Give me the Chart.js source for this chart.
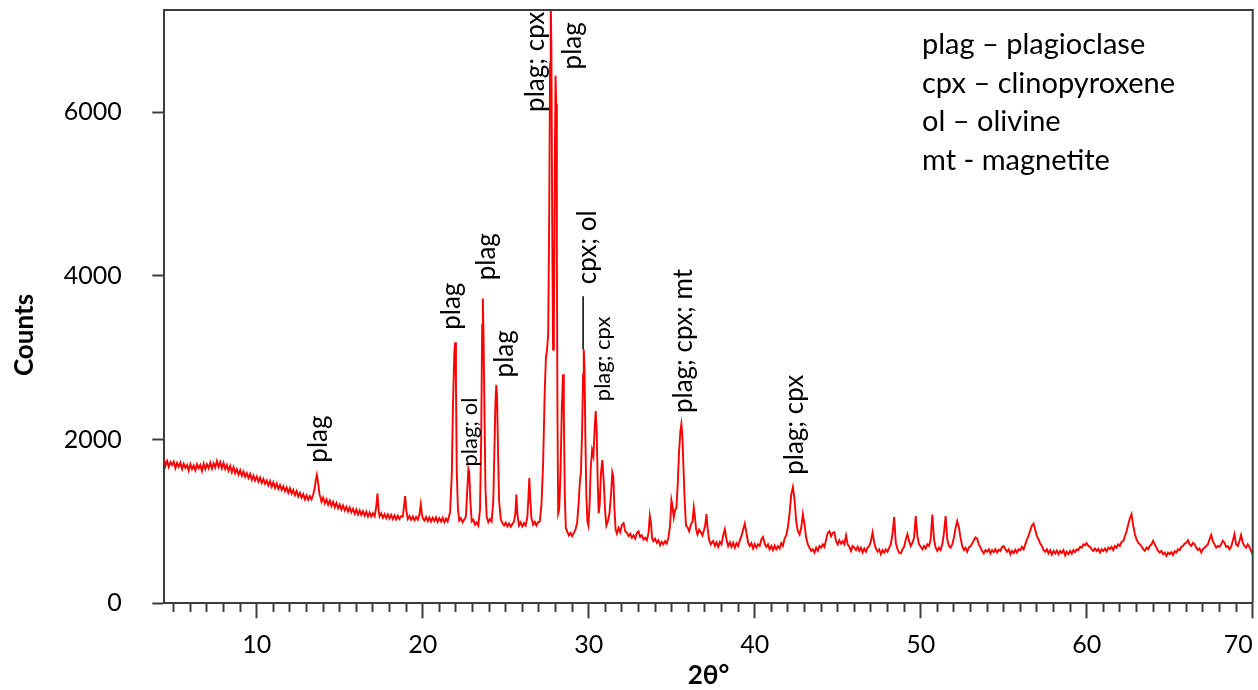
<!DOCTYPE html>
<html><head><meta charset="utf-8">
<script src="https://cdn.jsdelivr.net/npm/chart.js@4.4.1/dist/chart.umd.min.js"></script>
<style>html,body{margin:0;padding:0;background:#fff}</style>
</head><body>
<canvas id="c" width="1258" height="690"></canvas>
<script>
// ---- data (2θ in degrees, intensity in counts) ----
const thetaA = [4.44,4.5,4.6,4.7,4.8,4.9,5.0,5.1,5.2,5.3,5.4,5.5,5.6,5.7,5.8,5.9,6.0,6.1,6.2,6.3,6.4,6.5,6.6,6.7,6.8,6.9,7.0,7.1,7.2,7.3,7.4,7.5,7.6,7.7,7.8,7.9,8.0,8.1,8.2,8.3,8.4,8.5,8.6,8.7,8.8,8.9,9.0,9.1,9.2,9.3,9.4,9.5,9.6,9.7,9.8,9.9,10.0,10.1,10.2,10.3,10.4,10.5,10.6,10.7,10.8,10.9,11.0,11.1,11.2,11.3,11.4,11.5,11.6,11.7,11.8,11.9,12.0,12.1,12.2,12.3,12.4,12.5,12.6,12.7,12.8,12.9,13.0,13.1,13.2,13.3,13.4,13.5,13.55,13.62,13.7,13.78,13.85,13.9,14.0,14.1,14.2,14.3,14.4,14.5,14.6,14.7,14.8,14.9,15.0,15.1,15.2,15.3,15.4,15.5,15.6,15.7,15.8,15.9,16.0,16.1,16.2,16.3,16.4,16.5,16.6,16.7,16.8,16.9,17.0,17.1,17.2,17.27,17.35,17.4,17.5,17.6,17.7,17.8,17.9,18.0,18.1,18.2,18.3,18.4,18.5,18.6,18.7,18.8,18.87,18.94,19.02,19.1,19.2,19.3,19.4,19.5,19.6,19.7,19.8,19.88,19.95,20.0,20.1,20.2,20.3,20.4,20.5,20.6,20.7,20.8,20.9,21.0,21.1,21.2,21.3,21.4,21.5,21.58];
const countsA = [1750,1680,1740,1665,1725,1690,1730,1650,1715,1670,1720,1640,1705,1655,1690,1620,1700,1640,1685,1625,1700,1650,1690,1615,1705,1640,1700,1650,1720,1645,1710,1660,1740,1665,1725,1650,1715,1640,1690,1620,1680,1600,1665,1590,1640,1570,1625,1560,1610,1545,1590,1530,1580,1510,1560,1500,1550,1485,1535,1470,1520,1460,1500,1440,1495,1425,1480,1410,1465,1400,1445,1385,1430,1370,1415,1350,1405,1340,1385,1320,1370,1305,1350,1290,1335,1270,1320,1265,1310,1270,1330,1420,1500,1570,1470,1330,1290,1240,1290,1220,1270,1205,1255,1190,1240,1175,1225,1160,1205,1145,1195,1135,1180,1120,1170,1110,1155,1095,1145,1085,1135,1080,1125,1070,1120,1060,1110,1060,1100,1065,1180,1340,1120,1060,1100,1045,1090,1040,1085,1035,1080,1030,1075,1025,1070,1030,1065,1060,1180,1310,1120,1030,1065,1020,1060,1015,1055,1020,1080,1210,1090,1040,1010,1055,1005,1050,1000,1045,1005,1050,995,1040,1000,1045,990,1035,1000,1060];

const thetaB = [21.65,21.75,21.82,21.9,21.95,22.0,22.05,22.12,22.2,22.3,22.4,22.5,22.6,22.68,22.75,22.8,22.87,22.95,23.05,23.15,23.25,23.35,23.45,23.52,23.58,23.62,23.66,23.72,23.78,23.85,23.95,24.05,24.15,24.25,24.32,24.38,24.43,24.48,24.54,24.6,24.7,24.8,24.9,25.0,25.1,25.2,25.3,25.4,25.5,25.58,25.64,25.7,25.8,25.9,26.0,26.1,26.2,26.3,26.37,26.42,26.47,26.55,26.65,26.75,26.85,26.95,27.05,27.15,27.25,27.35,27.42,27.49,27.56,27.62,27.67,27.71,27.75,27.8,27.85,27.9,27.95,28.0,28.04,28.08,28.12,28.16,28.22,28.3,28.38,28.45,28.5,28.56,28.62,28.7,28.8,28.9,29.0,29.1,29.2,29.3,29.4,29.47,29.53,29.6,29.66,29.7,29.74,29.8,29.86,29.92,29.98,30.05,30.12,30.2,30.28,30.36,30.42,30.48,30.54,30.6,30.66,30.74,30.82,30.9,30.98,31.06,31.15,31.25,31.35,31.42,31.48,31.55,31.62,31.7,31.8,31.9,32.0,32.1,32.2,32.3,32.4,32.5,32.6,32.7,32.8,32.9,33.0,33.1,33.2,33.3,33.4,33.5,33.6,33.68,33.75,33.82,33.9,34.0,34.1,34.2,34.3,34.4,34.5,34.6,34.7,34.8,34.9,34.98,35.05,35.12,35.2,35.28,35.36,35.44,35.52,35.58,35.64,35.7,35.78,35.86,35.95,36.05,36.15,36.25,36.33,36.4,36.47,36.55,36.65,36.75,36.85,36.95,37.02,37.09,37.16,37.25,37.35,37.45];
const countsB = [1120,1580,2400,3050,3190,2700,1600,1150,1010,1040,990,1025,1060,1380,1640,1600,1250,1000,1020,960,990,950,1150,2000,3400,3725,3300,2300,1400,1060,990,1030,1000,1250,1900,2450,2670,2500,1800,1250,1030,980,950,985,940,975,935,970,1000,1100,1330,1090,950,990,940,980,950,1050,1300,1530,1300,1040,960,995,950,990,1000,1200,1700,2600,3000,3100,3300,4800,6600,7400,6800,4600,3100,3400,5200,6450,6100,4200,2200,1100,1150,1600,2400,2800,2300,1300,920,880,830,860,820,860,900,980,1250,1500,1600,2100,2800,3100,2900,2000,1300,1000,950,1200,1650,1870,1800,2150,2350,2100,1500,1100,1200,1600,1750,1500,1150,950,1000,1100,1350,1600,1550,1150,900,850,920,870,960,980,880,860,820,850,800,830,790,860,880,810,830,780,800,770,860,1070,980,790,760,790,740,770,710,750,720,760,730,800,950,1260,1180,1050,1140,1160,1450,1850,2100,2190,2050,1700,1250,950,930,880,960,1000,1170,1050,900,840,900,870,830,900,960,1090,920,780,720,750];

const thetaC = [37.5,37.6,37.7,37.8,37.9,
38.0,38.1,38.2,38.3,38.4,38.5,38.6,38.7,38.8,38.9,
39.0,39.1,39.2,39.3,39.4,39.5,39.6,39.7,39.8,39.9,
40.0,40.1,40.2,40.3,40.4,40.5,40.6,40.7,40.8,40.9,
41.0,41.1,41.2,41.3,41.4,41.5,41.6,41.7,41.8,41.9,
42.0,42.1,42.2,42.3,42.4,42.5,42.6,42.7,42.8,42.9,
43.0,43.1,43.2,43.3,43.4,43.5,43.6,43.7,43.8,43.9,
44.0,44.1,44.2,44.3,44.4,44.5,44.6,44.7,44.8,44.9,
45.0,45.1,45.2,45.3,45.4,45.5,45.6,45.7,45.8,45.9,
46.0,46.1,46.2,46.3,46.4,46.5,46.6,46.7,46.8,46.9,
47.0,47.1,47.2,47.3,47.4,47.5,47.6,47.7,47.8,47.9,
48.0,48.1,48.2,48.3,48.4,48.5,48.6,48.7,48.8,48.9,
49.0,49.1,49.2,49.3,49.4,49.5,49.6,49.7,49.8,49.9,
50.0,50.1,50.2,50.3,50.4,50.5,50.6,50.7,50.8,50.9,
51.0,51.1,51.2,51.3,51.4,51.5,51.6,51.7,51.8,51.9,
52.0,52.1,52.2,52.3,52.4,52.5,52.6,52.7,52.8,52.9,
53.0,53.1,53.2,53.3,53.4,53.5,53.6,53.7,53.8,53.9,
54.0,54.1,54.2,54.3,54.4,54.5,54.6,54.7,54.8,54.9,
55.0,55.1,55.2,55.3,55.4,55.5,55.6,55.7,55.8,55.9,
56.0,56.1,56.2,56.3,56.4,56.5,56.6,56.7,56.8,56.9,
57.0,57.1,57.2,57.3,57.4,57.5,57.6,57.7,57.8,57.9,
58.0,58.1,58.2,58.3,58.4,58.5,58.6,58.7,58.8,58.9,
59.0,59.1,59.2,59.3,59.4,59.5,59.6,59.7,59.8,59.9,
60.0,60.1,60.2,60.3,60.4,60.5,60.6,60.7,60.8,60.9,
61.0,61.1,61.2,61.3,61.4,61.5,61.6,61.7,61.8,61.9,
62.0,62.1,62.2,62.3,62.4,62.5,62.6,62.7,62.8,62.9,
63.0,63.1,63.2,63.3,63.4,63.5,63.6,63.7,63.8,63.9,
64.0,64.1,64.2,64.3,64.4,64.5,64.6,64.7,64.8,64.9,
65.0,65.1,65.2,65.3,65.4,65.5,65.6,65.7,65.8,65.9,
66.0,66.1,66.2,66.3,66.4,66.5,66.6,66.7,66.8,66.9,
67.0,67.1,67.2,67.3,67.4,67.5,67.6,67.7,67.8,67.9,
68.0,68.1,68.2,68.3,68.4,68.5,68.6,68.7,68.8,68.9,
69.0,69.1,69.2,69.3,69.4,69.5,69.6,69.7,69.8,69.9,
70.0];
const countsC = [760,700,745,690,750,
720,830,905,780,700,745,690,740,680,735,
700,770,820,900,975,860,740,700,735,670,
725,680,720,700,780,810,730,690,720,660,
700,650,705,660,700,670,735,700,790,830,
930,1100,1330,1420,1260,1000,880,840,920,1090,
960,800,720,680,640,660,620,680,640,700,
680,720,690,780,860,880,820,860,870,760,
720,770,730,760,720,830,720,690,640,700,
680,650,690,640,680,620,670,630,680,700,
760,865,740,670,630,660,600,650,620,660,
630,680,720,850,1055,740,660,620,610,660,
690,780,845,760,700,740,800,1065,820,720,
690,660,700,670,720,700,780,1085,780,680,
640,680,650,720,860,1065,780,700,680,720,
800,920,1005,930,800,700,650,680,630,680,
700,730,770,805,790,720,680,640,610,650,
630,660,610,650,625,660,620,655,640,690,
700,660,630,660,600,640,615,655,620,660,
650,690,660,720,780,830,890,950,975,900,
820,780,730,700,650,630,660,610,650,595,
640,610,645,600,640,615,650,585,630,600,
640,605,650,625,660,650,690,680,720,710,
735,700,690,660,640,670,640,665,620,660,
640,670,635,680,660,690,650,700,680,720,
700,750,760,820,880,960,1040,1090,950,850,
780,740,720,700,660,640,680,660,700,720,
765,720,680,640,620,640,600,620,580,620,
600,625,590,635,620,660,650,690,700,730,
740,770,720,700,740,720,680,650,670,620,
660,680,700,720,780,835,760,720,680,700,
690,720,765,740,690,700,660,690,760,845,
720,700,760,835,740,700,680,720,690,640,
600];

// axes
const xRange = [4.43, 70];
const yRange = [0, 7250];
const xMajorTicks = [10, 20, 30, 40, 50, 60, 70];
const xMinorStart = 5;
const yTicks = [0, 2000, 4000, 6000];

// peak labels: [text, 2θ of label centre, counts where the label starts, font size]
const peakLabels = [
  ['plag', 13.75, 1719, 26],
  ['plag', 21.72, 3342, 26],
  ['plag; ol', 22.87, 1671, 22],
  ['plag', 23.82, 3947, 26],
  ['plag', 24.94, 2760, 26],
  ['plag; cpx', 26.77, 6005, 26],
  ['plag', 29.04, 6524, 26],
  ['cpx; ol', 29.96, 3899, 26],
  ['plag; cpx', 30.88, 2470, 22],
  ['plag; cpx; mt', 35.72, 2325, 26],
  ['plag; cpx', 42.42, 1570, 26]
];
// leader line under "cpx; ol": [2θ, from counts, to counts]
const leaderLines = [[29.66, 3100, 3753]];
const keyLines = ['plag \u2013 plagioclase', 'cpx \u2013 clinopyroxene', 'ol \u2013 olivine', 'mt - magnetite'];

// ---- build ----
const theta = [...thetaA, ...thetaB, ...thetaC];
const counts = [...countsA, ...countsB, ...countsC];
const points = theta.map((t, i) => ({x: t, y: counts[i]}));
const xTickValues = [];
for (let v = xMinorStart; v <= xRange[1]; v++) xTickValues.push(v);

const AX = '#3c3c3c';
const FONT = 'Lato, "Open Sans", sans-serif';

const overlay = {
  id: 'overlay',
  afterDraw(chart) {
    const {ctx, chartArea: a, scales: {x, y}} = chart;
    ctx.save();
    ctx.strokeStyle = AX; ctx.lineWidth = 2;
    ctx.beginPath();
    ctx.moveTo(a.left, a.top); ctx.lineTo(a.right, a.top); ctx.lineTo(a.right, a.bottom);
    ctx.stroke();
    ctx.fillStyle = '#000';
    for (const [txt, t, c, sz] of peakLabels) {
      ctx.save();
      ctx.translate(x.getPixelForValue(t), y.getPixelForValue(c));
      ctx.rotate(-Math.PI / 2);
      ctx.font = sz + 'px ' + FONT;
      ctx.textAlign = 'left'; ctx.textBaseline = 'middle';
      ctx.fillText(txt, 0, 0);
      ctx.restore();
    }
    ctx.strokeStyle = '#000'; ctx.lineWidth = 1.5;
    for (const [t, c0, c1] of leaderLines) {
      const px = x.getPixelForValue(t);
      ctx.beginPath(); ctx.moveTo(px, y.getPixelForValue(c0)); ctx.lineTo(px, y.getPixelForValue(c1)); ctx.stroke();
    }
    ctx.font = '29px ' + FONT;
    ctx.textAlign = 'left'; ctx.textBaseline = 'middle';
    keyLines.forEach((s, i) => ctx.fillText(s, 922, 45 + i * 38.4));
    ctx.font = 'bold 26px ' + FONT;
    ctx.textAlign = 'center';
    ctx.fillText('2\u03b8\u00b0', (a.left + a.right) / 2, 676);
    ctx.translate(25, 335); ctx.rotate(-Math.PI / 2);
    ctx.fillText('Counts', 0, 0);
    ctx.restore();
  }
};

new Chart(document.getElementById('c'), {
  type: 'line',
  data: {datasets: [{data: points, borderColor: '#ff0000', borderWidth: 1.9, pointRadius: 0, tension: 0, fill: false}]},
  options: {
    responsive: false, animation: false, devicePixelRatio: 1,
    layout: {padding: {left: 0, right: 5.3, top: 10, bottom: 0}},
    plugins: {legend: {display: false}, tooltip: {enabled: false}},
    scales: {
      x: {
        type: 'linear', min: xRange[0], max: xRange[1], bounds: 'data',
        afterBuildTicks: (s) => { s.ticks = xTickValues.map(v => ({value: v})); },
        afterFit: (s) => { s.height = 86.7; s.paddingLeft = 0; s.paddingRight = 0; },
        grid: {display: true, drawOnChartArea: false, drawTicks: true, tickLength: 15, tickWidth: 2, tickColor: AX,
               tickBorderDash: (c) => (c.tick && xMajorTicks.includes(c.tick.value)) ? [] : [8, 40]},
        border: {display: true, color: AX, width: 2},
        ticks: {autoSkip: false, maxRotation: 0, minRotation: 0, align: 'inner', padding: 12, color: '#000',
                font: {family: FONT, size: 25},
                callback: (v) => xMajorTicks.includes(v) ? String(v) : ''}
      },
      y: {
        type: 'linear', min: yRange[0], max: yRange[1], bounds: 'data',
        afterBuildTicks: (s) => { s.ticks = yTicks.map(v => ({value: v})); },
        afterFit: (s) => { s.width = 164.3; s.paddingTop = 0; s.paddingBottom = 0; },
        grid: {display: true, drawOnChartArea: false, drawTicks: true, tickLength: 12, tickWidth: 2, tickColor: AX},
        border: {display: true, color: AX, width: 2},
        ticks: {padding: 30.6, color: '#000', font: {family: FONT, size: 25}, callback: (v) => String(v)}
      }
    }
  },
  plugins: [overlay]
});
</script>
</body></html>
